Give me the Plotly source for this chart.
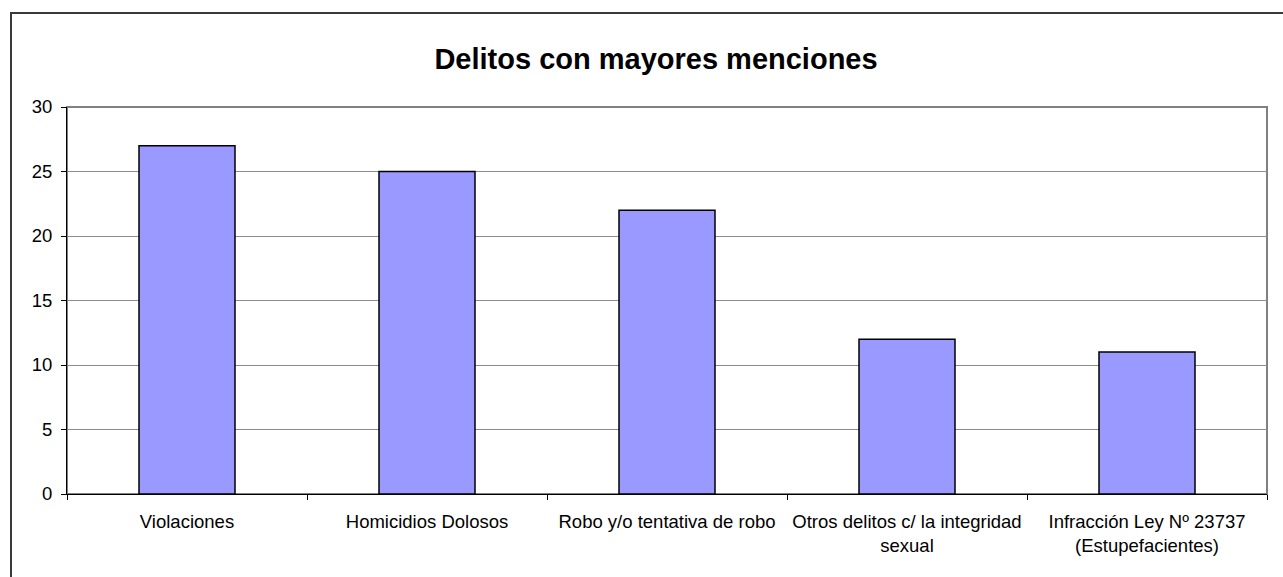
import plotly.graph_objects as go

categories = ["Violaciones", "Homicidios Dolosos", "Robo y/o tentativa de robo",
              "Otros delitos c/ la integridad<br>sexual",
              "Infracción Ley Nº 23737<br>(Estupefacientes)"]
values = [27, 25, 22, 12, 11]
y_ticks = [0, 5, 10, 15, 20, 25, 30]

W, H = 1283, 577
L, R, T, B = 67, 16, 107, 83
pw, ph = W - L - R, H - T - B

fig = go.Figure(go.Bar(
    x=categories, y=values, width=0.4,
    marker=dict(color="#9999FF", line=dict(color="black", width=1.5)),
    hoverinfo="x+y",
))

fig.update_layout(
    width=W, height=H,
    margin=dict(l=L, r=R, t=T, b=B),
    paper_bgcolor="white", plot_bgcolor="white",
    font=dict(family="Liberation Sans, Arial", size=18.5, color="black"),
    title=dict(text="<b>Delitos con mayores menciones</b>", x=656 / W, xanchor="center",
               y=1 - 59 / H, yanchor="middle", font=dict(size=29, color="black")),
    showlegend=False,
    bargap=0.6,
    shapes=[
        dict(type="rect", xref="paper", yref="paper", x0=0, x1=1, y0=0, y1=1,
             line=dict(color="#808080", width=2), layer="below"),
        dict(type="rect", xref="paper", yref="paper",
             x0=(11 - L) / pw, x1=1.2, y0=-0.5, y1=1 + (T - 13) / ph,
             line=dict(color="#3a3a3a", width=2)),
    ],
)
fig.update_xaxes(type="category", tickson="boundaries", ticks="outside", ticklen=5,
                 tickcolor="black", showline=True, linecolor="black", linewidth=1,
                 showgrid=False, ticklabelstandoff=11, tickfont=dict(size=18.5),
                 range=[-0.5, 4.5])
fig.update_yaxes(range=[0, 30], tickvals=y_ticks, ticks="outside", ticklen=5, tickcolor="black",
                 showline=True, linecolor="black", linewidth=1, showgrid=True,
                 gridcolor="#8c8c8c", gridwidth=1, zeroline=False, ticklabelstandoff=5,
                 tickfont=dict(size=18.5))

fig.write_html("out.html", config={"displayModeBar": False},
               post_script="document.body.style.margin='0';document.body.style.overflow='hidden';")
